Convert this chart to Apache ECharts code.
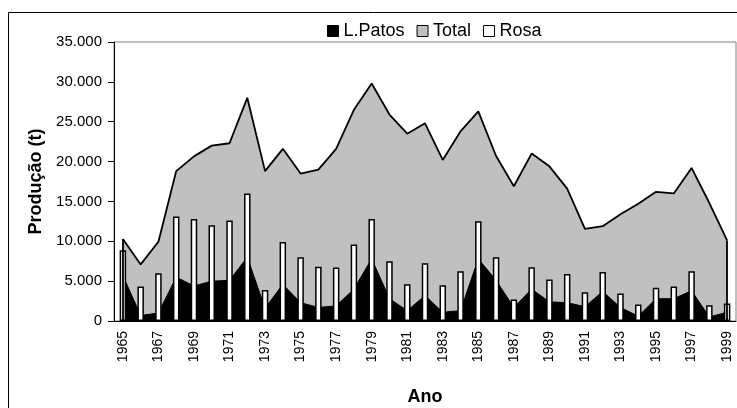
<!DOCTYPE html>
<html>
<head>
<meta charset="utf-8">
<script src="https://cdn.jsdelivr.net/npm/echarts@6/dist/echarts.min.js"></script>
<style>
  html, body { margin: 0; padding: 0; background: #fff; }
  #chart { width: 737px; height: 408px; }
</style>
</head>
<body>
<div id="chart"></div>
<script>
// anos 1965..1999
const years = ['1965','1966','1967','1968','1969','1970','1971','1972','1973','1974',
  '1975','1976','1977','1978','1979','1980','1981','1982','1983','1984',
  '1985','1986','1987','1988','1989','1990','1991','1992','1993','1994',
  '1995','1996','1997','1998','1999'];
// produção (t)
const total = [10300, 7100, 9950, 18800, 20650, 22000, 22300, 28000, 18800, 21600,
  18500, 19000, 21600, 26500, 29800, 25900, 23500, 24800, 20200, 23800,
  26300, 20700, 16900, 21000, 19400, 16600, 11550, 11900, 13400, 14700,
  16200, 16000, 19200, 14800, 10100];
const patos = [5700, 700, 1000, 5500, 4400, 5000, 5100, 8000, 1600, 4600,
  2300, 1700, 1900, 4000, 7800, 2800, 1300, 3200, 1100, 1300,
  7800, 5100, 1700, 4000, 2400, 2300, 1800, 3700, 1700, 600,
  2800, 2800, 3800, 500, 1100];
const rosa = [8870, 4320, 6000, 13100, 12800, 12000, 12600, 16000, 3900, 9900,
  8000, 6800, 6700, 9600, 12800, 7500, 4600, 7250, 4500, 6250,
  12500, 8000, 2700, 6750, 5200, 5900, 3600, 6150, 3450, 2070,
  4160, 4320, 6240, 1980, 2190];
const yTicks = [0, 5000, 10000, 15000, 20000, 25000, 30000, 35000];

const font = "'Liberation Sans', Arial, sans-serif";
const fmt = v => String(v).replace(/\B(?=(\d{3})+(?!\d))/g, '.');
const last = years.length - 1;

const chart = echarts.init(document.getElementById('chart'));
chart.setOption({
  animation: false,
  textStyle: { fontFamily: font },
  graphic: [{
    type: 'rect', z: -1, silent: true,
    shape: { x: 8.5, y: 12.5, width: 800, height: 500 },
    style: { fill: 'none', stroke: '#000', lineWidth: 1 },
  }],
  legend: {
    top: 17, left: 322, icon: 'rect', itemWidth: 11, itemHeight: 11, itemGap: 12,
    textStyle: { fontSize: 18, color: '#000', fontFamily: font },
    data: [
      { name: 'L.Patos', itemStyle: { color: '#000', borderColor: '#000', borderWidth: 1 } },
      { name: 'Total', itemStyle: { color: '#c0c0c0', borderColor: '#000', borderWidth: 1 } },
      { name: 'Rosa', itemStyle: { color: '#fff', borderColor: '#000', borderWidth: 1 } },
    ],
  },
  grid: {
    left: 114, right: 1, top: 42, bottom: 87,
    outerBoundsMode: 'none', containLabel: false,
    show: true, borderColor: '#808080', borderWidth: 1, backgroundColor: 'transparent',
  },
  xAxis: {
    type: 'category', data: years, boundaryGap: true,
    name: 'Ano', nameLocation: 'middle', nameGap: 67,
    nameTextStyle: { fontSize: 18, fontWeight: 'bold', color: '#000', fontFamily: font },
    axisLine: { lineStyle: { color: '#000', width: 1 } },
    axisTick: { interval: 0, length: 6, lineStyle: { color: '#000' } },
    axisLabel: { interval: 1, rotate: 90, margin: 10, fontSize: 14, color: '#000', fontFamily: font },
    splitLine: { show: false },
  },
  yAxis: {
    type: 'value', min: yTicks[0], max: yTicks[yTicks.length - 1], interval: 5000,
    name: 'Produção (t)', nameLocation: 'middle', nameGap: 67,
    nameTextStyle: { fontSize: 18, fontWeight: 'bold', color: '#000', fontFamily: font },
    axisLine: { show: true, lineStyle: { color: '#000', width: 1 } },
    axisTick: { show: true, length: 6, lineStyle: { color: '#000' } },
    axisLabel: { margin: 12, fontSize: 15, color: '#000', fontFamily: font, formatter: fmt },
    splitLine: { show: false },
  },
  series: [
    {
      name: 'Total', type: 'line', data: total, symbol: 'none', z: 1,
      itemStyle: { color: '#c0c0c0' },
      lineStyle: { color: '#000', width: 1.8 },
      areaStyle: { color: '#c0c0c0', opacity: 1 },
      markLine: {
        silent: true, symbol: 'none', label: { show: false },
        lineStyle: { color: '#000', width: 1.8, type: 'solid' },
        data: [
          [{ coord: [years[0], 0] }, { coord: [years[0], total[0]] }],
          [{ coord: [years[last], 0] }, { coord: [years[last], total[last]] }],
        ],
      },
    },
    {
      name: 'L.Patos', type: 'line', data: patos, symbol: 'none', z: 2,
      itemStyle: { color: '#000' },
      lineStyle: { color: '#000', width: 1 },
      areaStyle: { color: '#000', opacity: 1 },
    },
    {
      name: 'Rosa', type: 'bar', data: rosa, barWidth: 6.5, z: 3,
      itemStyle: { color: '#fff', borderColor: '#000', borderWidth: 1.5 },
    },
  ],
});
</script>
</body>
</html>
